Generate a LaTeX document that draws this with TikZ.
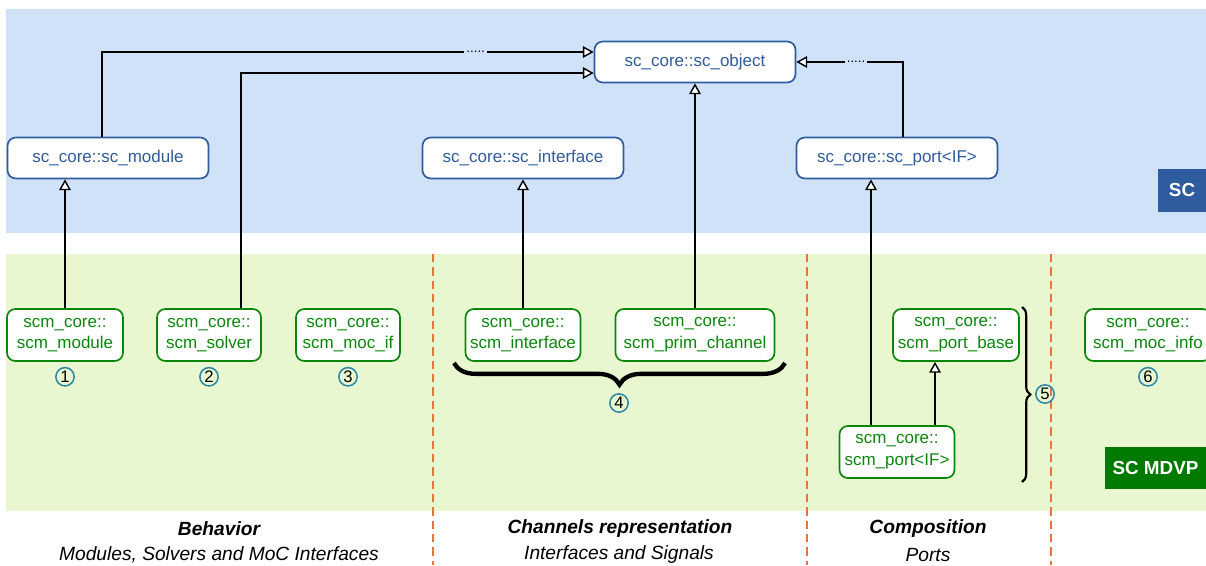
\documentclass[tikz,border=0pt]{standalone}
\usepackage{fontspec}
\setmainfont{Liberation Sans}
\usepackage{tikz}
\usetikzlibrary{arrows.meta, positioning, calc, decorations.pathreplacing}
\definecolor{scblue}{HTML}{2E5C9E}
\definecolor{scbandblue}{HTML}{D0E2F8}
\definecolor{scmgreen}{HTML}{0A870A}
\definecolor{scmband}{HTML}{E8F7D0}
\definecolor{mdvpgreen}{HTML}{007A00}
\definecolor{seporange}{HTML}{E8743B}
\definecolor{numteal}{HTML}{2A86A8}

\begin{document}
\begin{tikzpicture}[x=0.6pt, y=-0.6pt,
    every node/.style={font=\fontsize{10.2}{13}\selectfont},
    scbox/.style={draw=scblue, line width=1pt, fill=white, rounded corners=5pt,
      text=scblue, minimum width=120.6pt, minimum height=24.6pt, inner sep=1pt},
    scmbox/.style={draw=scmgreen, line width=1pt, fill=white, rounded corners=5pt,
      text=scmgreen, minimum height=31.2pt, align=center, inner sep=1pt},
    inh/.style={-{Triangle[fill=white, length=6.5pt, width=7pt]}, line width=0.85pt},
    numc/.style={circle, draw=numteal, line width=0.9pt, inner sep=0pt,
      minimum size=11pt, font=\fontsize{10}{10}\selectfont},
    gapdots/.style={fill=scbandblue, inner xsep=1.2pt, inner ysep=0.5pt,
      font=\fontsize{8}{8}\selectfont},
    sepline/.style={draw=seporange, line width=1pt, dash pattern=on 5pt off 3pt},
    bandtag/.style={text=white, inner sep=0pt, font=\fontsize{11.3}{12}\selectfont\bfseries},
    colhead/.style={font=\fontsize{11.5}{13}\selectfont\bfseries\itshape},
    colsub/.style={font=\fontsize{11.5}{13}\selectfont\itshape}]
  \useasboundingbox (0,0) rectangle (1206,565);
  \fill[scbandblue] (6,9) rectangle (1206,233);
  \fill[scmband] (6,254) rectangle (1206,511);
  \draw[sepline] (433,254) -- (433,565);
  \draw[sepline] (807,254) -- (807,565);
  \draw[sepline] (1051,254) -- (1051,565);

  \node[scbox] (scobject) at (695,62) {sc\_core::sc\_object};
  \node[scbox] (scmodule) at (108,158) {sc\_core::sc\_module};
  \node[scbox] (scinterface) at (523,158) {sc\_core::sc\_interface};
  \node[scbox] (scport) at (897,158) {sc\_core::sc\_port<IF>};
  \node[bandtag, fill=scblue, minimum width=28.8pt, minimum height=25.8pt]
    (sctag) at (1182,190.5) {SC};

  \node[scmbox, minimum width=69.6pt] (scmmodule) at (65,335) {scm\_core::\\scm\_module};
  \node[scmbox, minimum width=62.4pt] (scmsolver) at (209,335) {scm\_core::\\scm\_solver};
  \node[scmbox, minimum width=62.4pt] (scmmocif) at (348,335) {scm\_core::\\scm\_moc\_if};
  \node[scmbox, minimum width=69pt] (scminterface) at (523,335) {scm\_core::\\scm\_interface};
  \node[scmbox, minimum width=95.4pt] (scmprim) at (695,335) {scm\_core::\\scm\_prim\_channel};
  \node[scmbox, minimum width=75.6pt] (scmportbase) at (956,335) {scm\_core::\\scm\_port\_base};
  \node[scmbox, minimum width=69pt] (scmport) at (897,452) {scm\_core::\\scm\_port<IF>};
  \node[scmbox, minimum width=75.6pt] (scmmocinfo) at (1148,335) {scm\_core::\\scm\_moc\_info};
  \node[bandtag, fill=mdvpgreen, minimum width=60.6pt, minimum height=25.2pt]
    (mdvptag) at (1155.5,468) {SC MDVP};

  \node[numc, below=3pt of scmmodule] (num1) {1};
  \node[numc, below=3pt of scmsolver] (num2) {2};
  \node[numc, below=3pt of scmmocif] (num3) {3};
  \node[numc] (num4) at (619,403) {4};
  \node[numc] (num5) at (1045,394) {5};
  \node[numc, below=3pt of scmmocinfo] (num6) {6};
  \draw[decorate, decoration={brace, amplitude=13pt}, line width=2.6pt]
    (785,363) -- (454,363);
  \draw[decorate, decoration={brace, amplitude=5pt}, line width=1.3pt]
    (1022,307) -- (1022,482);

  \draw[inh] (scmmodule.north) -- (scmmodule.north |- scmodule.south);
  \draw[inh] ($(scmodule.north)+(-6,0)$) |- node[gapdots, pos=0.88] {.....}
    ($(scobject.west)+(0,-10)$);
  \draw[inh] ($(scmsolver.north)+(32,0)$) |- ($(scobject.west)+(0,11)$);
  \draw[inh] (scminterface.north) -- (scminterface.north |- scinterface.south);
  \draw[inh] (scmprim.north) -- (scmprim.north |- scobject.south);
  \coordinate (portup) at ($(scmport.north)+(-26,0)$);
  \coordinate (portbaseup) at ($(scmport.north)+(38,0)$);
  \draw[inh] (portup) -- (portup |- scport.south);
  \draw[inh] (portbaseup) -- (portbaseup |- scmportbase.south);
  \draw[inh] ($(scport.north)+(6,0)$) |- node[gapdots, pos=0.72] {.....}
    (scobject.east);

  \node[colhead] (behhead) at (219,529) {Behavior};
  \node[colsub] (behsub) at (219,555) {Modules, Solvers and MoC Interfaces};
  \node[colhead] (chanhead) at (620,529) {Channels representation};
  \node[colsub] (chansub) at (619,555) {Interfaces and Signals};
  \node[colhead] (comphead) at (928,529) {Composition};
  \node[colsub] (compsub) at (928,555) {Ports};
\end{tikzpicture}
\end{document}
